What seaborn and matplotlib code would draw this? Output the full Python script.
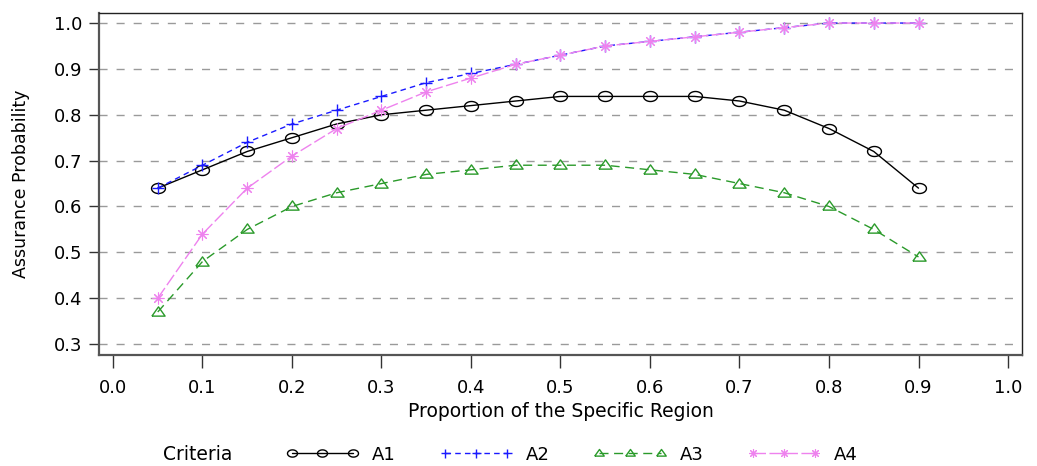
import numpy as np
import pandas as pd
import matplotlib
matplotlib.use("Agg")
import matplotlib.pyplot as plt
import seaborn as sns
from matplotlib.lines import Line2D

proportion = [0.05, 0.10, 0.15, 0.20, 0.25, 0.30, 0.35, 0.40, 0.45,
              0.50, 0.55, 0.60, 0.65, 0.70, 0.75, 0.80, 0.85, 0.90]
a1 = [0.64, 0.68, 0.72, 0.75, 0.78, 0.80, 0.81, 0.82, 0.83,
      0.84, 0.84, 0.84, 0.84, 0.83, 0.81, 0.77, 0.72, 0.64]
a2 = [0.64, 0.69, 0.74, 0.78, 0.81, 0.84, 0.87, 0.89, 0.91,
      0.93, 0.95, 0.96, 0.97, 0.98, 0.99, 1.00, 1.00, 1.00]
a3 = [0.37, 0.48, 0.55, 0.60, 0.63, 0.65, 0.67, 0.68, 0.69,
      0.69, 0.69, 0.68, 0.67, 0.65, 0.63, 0.60, 0.55, 0.49]
a4 = [0.40, 0.54, 0.64, 0.71, 0.77, 0.81, 0.85, 0.88, 0.91,
      0.93, 0.95, 0.96, 0.97, 0.98, 0.99, 1.00, 1.00, 1.00]
criteria = ["A1", "A2", "A3", "A4"]
x_ticks = [0.0, 0.1, 0.2, 0.3, 0.4, 0.5, 0.6, 0.7, 0.8, 0.9, 1.0]
y_ticks = [0.3, 0.4, 0.5, 0.6, 0.7, 0.8, 0.9, 1.0]

df = pd.DataFrame({
    "Proportion": proportion * 4,
    "Probability": a1 + a2 + a3 + a4,
    "Criteria": np.repeat(criteria, len(proportion)),
})

sns.set_style("white")
plt.rcParams["font.family"] = ["DejaVu Sans"]
plt.rcParams["text.color"] = "black"
plt.rcParams["axes.labelcolor"] = "black"
plt.rcParams["xtick.color"] = "black"
plt.rcParams["ytick.color"] = "black"

# elliptical open circle and triangle (reference is horizontally stretched)
t = np.linspace(0, 2 * np.pi, 60)
ellipse = list(zip(1.0 * np.cos(t), 0.72 * np.sin(t)))
triangle = [(-1.0, -0.55), (1.0, -0.55), (0.0, 0.85), (-1.0, -0.55)]

colors = {"A1": "black", "A2": "#1a1aff", "A3": "#2a9a2a", "A4": "#ee82ee"}
markers = {"A1": ellipse, "A2": "+", "A3": triangle, "A4": (8, 2, 0)}
dashes = {"A1": None, "A2": (4, 3), "A3": (6.5, 4), "A4": (9, 2.5)}
msize = {"A1": 10, "A2": 9, "A3": 9.5, "A4": 8.5}
mew = {"A1": 1.0, "A2": 1.0, "A3": 1.0, "A4": 0.8}

fig = plt.figure(figsize=(10.37, 4.66), dpi=100)
ax = fig.add_axes([0.0955, 0.238, 0.89, 0.734])

for y in y_ticks:
    ax.axhline(y, color="#9a9a9a", lw=1.0, dashes=(5.8, 6.5), zorder=0)

for c in criteria:
    n_before = len(ax.get_lines())
    sns.lineplot(data=df[df["Criteria"] == c], x="Proportion", y="Probability",
                 color=colors[c], marker=markers[c], ms=msize[c],
                 mfc="none", mec=colors[c], mew=mew[c], lw=1.0,
                 legend=False, ax=ax)
    line = ax.get_lines()[n_before]
    if dashes[c]:
        line.set_dashes(dashes[c])

ax.set_xlim(-0.0156, 1.0156)
ax.set_ylim(0.276, 1.0218)
ax.set_xticks(x_ticks)
ax.set_yticks(y_ticks)
ax.set_xticklabels([f"{v:.1f}" for v in x_ticks])
ax.set_yticklabels([f"{v:.1f}" for v in y_ticks])
ax.tick_params(axis="x", length=9, width=1, color="#333333", pad=8,
               labelsize=13, bottom=True)
ax.tick_params(axis="y", length=7, width=1, color="#333333", pad=5,
               labelsize=13, left=True)

for s in ["top", "right"]:
    ax.spines[s].set_color("#222222")
    ax.spines[s].set_linewidth(1.0)
for s in ["left", "bottom"]:
    ax.spines[s].set_color("#555555")
    ax.spines[s].set_linewidth(1.6)

ax.set_xlabel("Proportion of the Specific Region", fontsize=13.5, labelpad=4)
ax.set_ylabel("Assurance Probability", fontsize=12.5, labelpad=17)

leg_handles = []
for c in criteria:
    lh = Line2D([], [], color=colors[c], lw=1.0, marker=markers[c],
                markersize=msize[c] * 0.72, markerfacecolor="none",
                markeredgecolor=colors[c], markeredgewidth=mew[c])
    if dashes[c]:
        lh.set_dashes(dashes[c])
    leg_handles.append(lh)

fig.text(0.157, 0.024, "Criteria", fontsize=13.5, va="center", ha="left")
fig.legend(leg_handles, criteria, loc="center left",
           bbox_to_anchor=(0.276, 0.024), ncol=4, frameon=False,
           numpoints=3, handlelength=4.0, handletextpad=0.75,
           columnspacing=2.45, fontsize=13, borderaxespad=0, borderpad=0)

fig.savefig("out.png", dpi=100)
